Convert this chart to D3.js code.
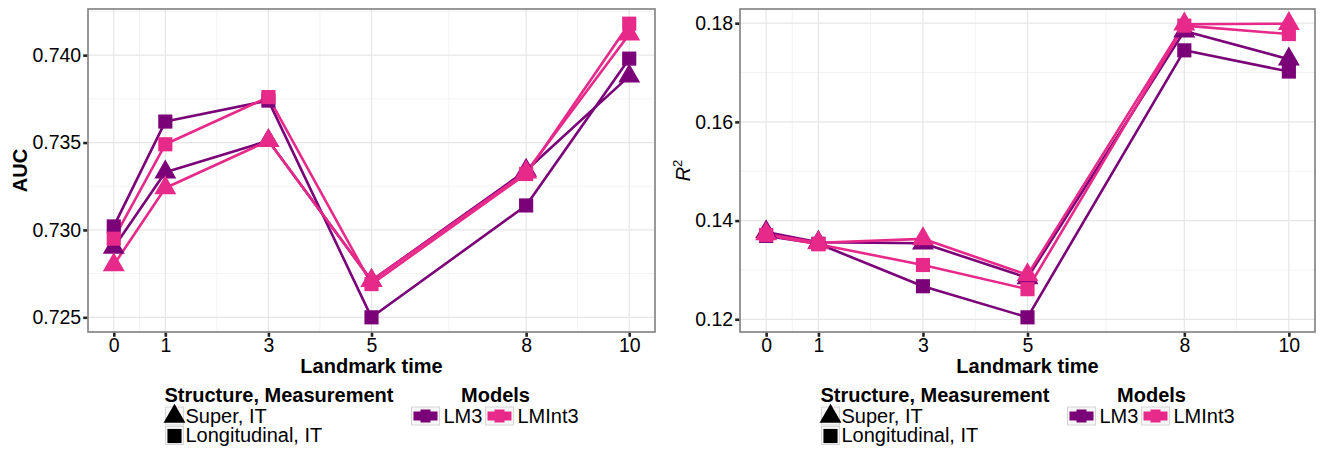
<!DOCTYPE html>
<html>
<head>
<meta charset="utf-8">
<script src="https://cdn.jsdelivr.net/npm/d3@7"></script>
<style>
  body { margin: 0; background: #fff; }
  text { font-family: "Liberation Sans", Arial, Helvetica, sans-serif; fill: #000; }
</style>
</head>
<body>
<div id="chart"></div>
<script>
var w = 1324;
var h = 451;

// landmark times (x axis)
var landmark = [0, 1, 3, 5, 8, 10];

// AUC panel
var aucLM3Super  = [0.7290, 0.7333, 0.7351, 0.7271, 0.7334, 0.7388];
var aucLM3Long   = [0.7302, 0.7362, 0.7374, 0.7250, 0.7314, 0.7398];
var aucInt3Super = [0.7280, 0.7324, 0.7351, 0.7271, 0.7333, 0.7412];
var aucInt3Long  = [0.7295, 0.7349, 0.7376, 0.7269, 0.7332, 0.7418];
var aucTicks = [0.725, 0.730, 0.735, 0.740];

// R^2 panel
var r2LM3Super  = [0.1377, 0.1356, 0.1354, 0.1284, 0.1784, 0.1727];
var r2LM3Long   = [0.1369, 0.1353, 0.1267, 0.1204, 0.1745, 0.1702];
var r2Int3Super = [0.1373, 0.1355, 0.1363, 0.1290, 0.1798, 0.1799];
var r2Int3Long  = [0.1371, 0.1352, 0.1310, 0.1261, 0.1795, 0.1778];
var r2Ticks = [0.12, 0.14, 0.16, 0.18];

var models = ["LM3", "LMInt3"];
var structures = ["Super, IT", "Longitudinal, IT"];

var color = d3.scaleOrdinal().domain(models).range(["#7a0177", "#e7298a"]);

var svg = d3.select("#chart")
            .append("svg")
            .attr("width", w)
            .attr("height", h);

function symbolPath(structure, size) {
  if (structure == "Super, IT") return d3.symbol().type(d3.symbolTriangle).size(size * 0.8)();
  return d3.symbol().type(d3.symbolSquare).size(size)();
}

function drawPanel(p) {
  var g = svg.append("g");
  var all = p.series.reduce(function(a, s) { return a.concat(s.values); }, []);
  var lo = d3.min(all), hi = d3.max(all), pad = (hi - lo) * 0.05;

  var x = d3.scaleLinear().domain([-0.5, 10.5]).range([p.left, p.right]);
  var y = d3.scaleLinear().domain([lo - pad, hi + pad]).range([p.bottom, p.top]);

  // minor grid
  var xMinor = [];
  for (var i = 0; i < landmark.length - 1; i++) xMinor.push((landmark[i] + landmark[i + 1]) / 2);
  var step = p.ticks[1] - p.ticks[0];
  var yMinor = [p.ticks[0] - step / 2].concat(p.ticks.map(function(t) { return t + step / 2; }))
                 .filter(function(v) { return v > lo - pad && v < hi + pad; });

  g.selectAll(".xminor").data(xMinor).enter().append("line")
    .attr("x1", function(d) { return x(d); }).attr("x2", function(d) { return x(d); })
    .attr("y1", p.top).attr("y2", p.bottom)
    .attr("stroke", "#f3f3f3").attr("stroke-width", 1);
  g.selectAll(".yminor").data(yMinor).enter().append("line")
    .attr("y1", function(d) { return y(d); }).attr("y2", function(d) { return y(d); })
    .attr("x1", p.left).attr("x2", p.right)
    .attr("stroke", "#f3f3f3").attr("stroke-width", 1);

  // major grid
  g.selectAll(".xmajor").data(landmark).enter().append("line")
    .attr("x1", function(d) { return x(d); }).attr("x2", function(d) { return x(d); })
    .attr("y1", p.top).attr("y2", p.bottom)
    .attr("stroke", "#e6e6e6").attr("stroke-width", 1.2);
  g.selectAll(".ymajor").data(p.ticks).enter().append("line")
    .attr("y1", function(d) { return y(d); }).attr("y2", function(d) { return y(d); })
    .attr("x1", p.left).attr("x2", p.right)
    .attr("stroke", "#e6e6e6").attr("stroke-width", 1.2);

  // lines
  var line = d3.line()
               .x(function(d, i) { return x(landmark[i]); })
               .y(function(d) { return y(d); });
  g.selectAll(".series").data(p.series).enter().append("path")
    .attr("d", function(s) { return line(s.values); })
    .attr("fill", "none")
    .attr("stroke", function(s) { return color(s.model); })
    .attr("stroke-width", 2.6)
    .attr("stroke-linejoin", "round");

  // points
  p.series.forEach(function(s) {
    g.selectAll(null).data(s.values).enter().append("path")
      .attr("transform", function(d, i) { return "translate(" + x(landmark[i]) + "," + y(d) + ")"; })
      .attr("d", symbolPath(s.structure, s.structure == "Super, IT" ? 260 : 200))
      .attr("fill", color(s.model));
  });

  // panel border
  g.append("rect")
    .attr("x", p.left).attr("y", p.top)
    .attr("width", p.right - p.left).attr("height", p.bottom - p.top)
    .attr("fill", "none").attr("stroke", "#7f7f7f").attr("stroke-width", 1.6);

  // axes
  var xAxis = g.append("g")
    .attr("transform", "translate(0," + (p.bottom + 0.8) + ")")
    .call(d3.axisBottom(x).tickValues(landmark).tickSize(4).tickPadding(1));
  var yAxis = g.append("g")
    .attr("transform", "translate(" + (p.left - 0.8) + ",0)")
    .call(d3.axisLeft(y).tickValues(p.ticks).tickFormat(d3.format(p.fmt)).tickSize(4).tickPadding(2));
  [xAxis, yAxis].forEach(function(a) {
    a.select(".domain").remove();
    a.selectAll(".tick line").attr("stroke", "#222").attr("stroke-width", 2.6);
    a.selectAll(".tick text").attr("fill", "#111").style("font-size", "19.5px")
      .style("font-family", "'Liberation Sans', Arial, sans-serif");
  });

  var cx = (p.left + p.right) / 2;
  var cy = (p.top + p.bottom) / 2;

  g.append("text")
    .attr("x", cx).attr("y", 373)
    .attr("text-anchor", "middle")
    .style("font-size", "20px").style("font-weight", "bold")
    .text("Landmark time");

  var yt = g.append("text")
    .attr("transform", "translate(" + p.ytitleX + "," + cy + ") rotate(-90)")
    .attr("text-anchor", "middle")
    .style("font-size", "20px");
  if (p.ytitle == "AUC") {
    yt.style("font-weight", "bold").text("AUC");
  } else {
    yt.append("tspan").style("font-style", "italic").text("R");
    yt.append("tspan").attr("dy", -8).style("font-size", "13px").text("2");
  }

  // legend: structure
  var lg = g.append("g");
  lg.append("text")
    .attr("x", cx - 207).attr("y", 402)
    .style("font-size", "20px").style("font-weight", "bold")
    .text("Structure, Measurement");
  structures.forEach(function(s, i) {
    var ky = 407 + i * 19.5;
    lg.append("rect")
      .attr("x", cx - 206).attr("y", ky)
      .attr("width", 18).attr("height", 18)
      .attr("fill", "#f7f7f7").attr("stroke", "#d6d6d6").attr("stroke-width", 1);
    lg.append("path")
      .attr("transform", "translate(" + (cx - 197) + "," + (ky + 9.5) + ")")
      .attr("d", symbolPath(s, s == "Super, IT" ? 260 : 200))
      .attr("fill", "#000");
    lg.append("text")
      .attr("x", cx - 186).attr("y", ky + 15.5)
      .style("font-size", "20px")
      .text(s);
  });

  // legend: models
  lg.append("text")
    .attr("x", cx + 124).attr("y", 402)
    .attr("text-anchor", "middle")
    .style("font-size", "20px").style("font-weight", "bold")
    .text("Models");
  var keyX = [cx + 40, cx + 114];
  models.forEach(function(m, i) {
    var kx = keyX[i], ky = 407;
    lg.append("rect")
      .attr("x", kx).attr("y", ky)
      .attr("width", 28).attr("height", 18)
      .attr("fill", "#f7f7f7").attr("stroke", "#d6d6d6").attr("stroke-width", 1);
    lg.append("rect")
      .attr("x", kx + 2).attr("y", ky + 4.5)
      .attr("width", 24).attr("height", 9)
      .attr("fill", color(m));
    lg.append("rect")
      .attr("x", kx + 9).attr("y", ky + 2.5)
      .attr("width", 10).attr("height", 13)
      .attr("fill", color(m));
    lg.append("text")
      .attr("x", kx + 32).attr("y", ky + 15.5)
      .style("font-size", "20px")
      .text(m);
  });
}

drawPanel({
  left: 88, right: 655, top: 9, bottom: 332,
  ticks: aucTicks, fmt: ".3f", ytitle: "AUC", ytitleX: 27,
  series: [
    {model: "LM3", structure: "Super, IT", values: aucLM3Super},
    {model: "LM3", structure: "Longitudinal, IT", values: aucLM3Long},
    {model: "LMInt3", structure: "Super, IT", values: aucInt3Super},
    {model: "LMInt3", structure: "Longitudinal, IT", values: aucInt3Long}
  ]
});

drawPanel({
  left: 740, right: 1315, top: 9, bottom: 332,
  ticks: r2Ticks, fmt: ".2f", ytitle: "R2", ytitleX: 690,
  series: [
    {model: "LM3", structure: "Super, IT", values: r2LM3Super},
    {model: "LM3", structure: "Longitudinal, IT", values: r2LM3Long},
    {model: "LMInt3", structure: "Super, IT", values: r2Int3Super},
    {model: "LMInt3", structure: "Longitudinal, IT", values: r2Int3Long}
  ]
});
</script>
</body>
</html>
